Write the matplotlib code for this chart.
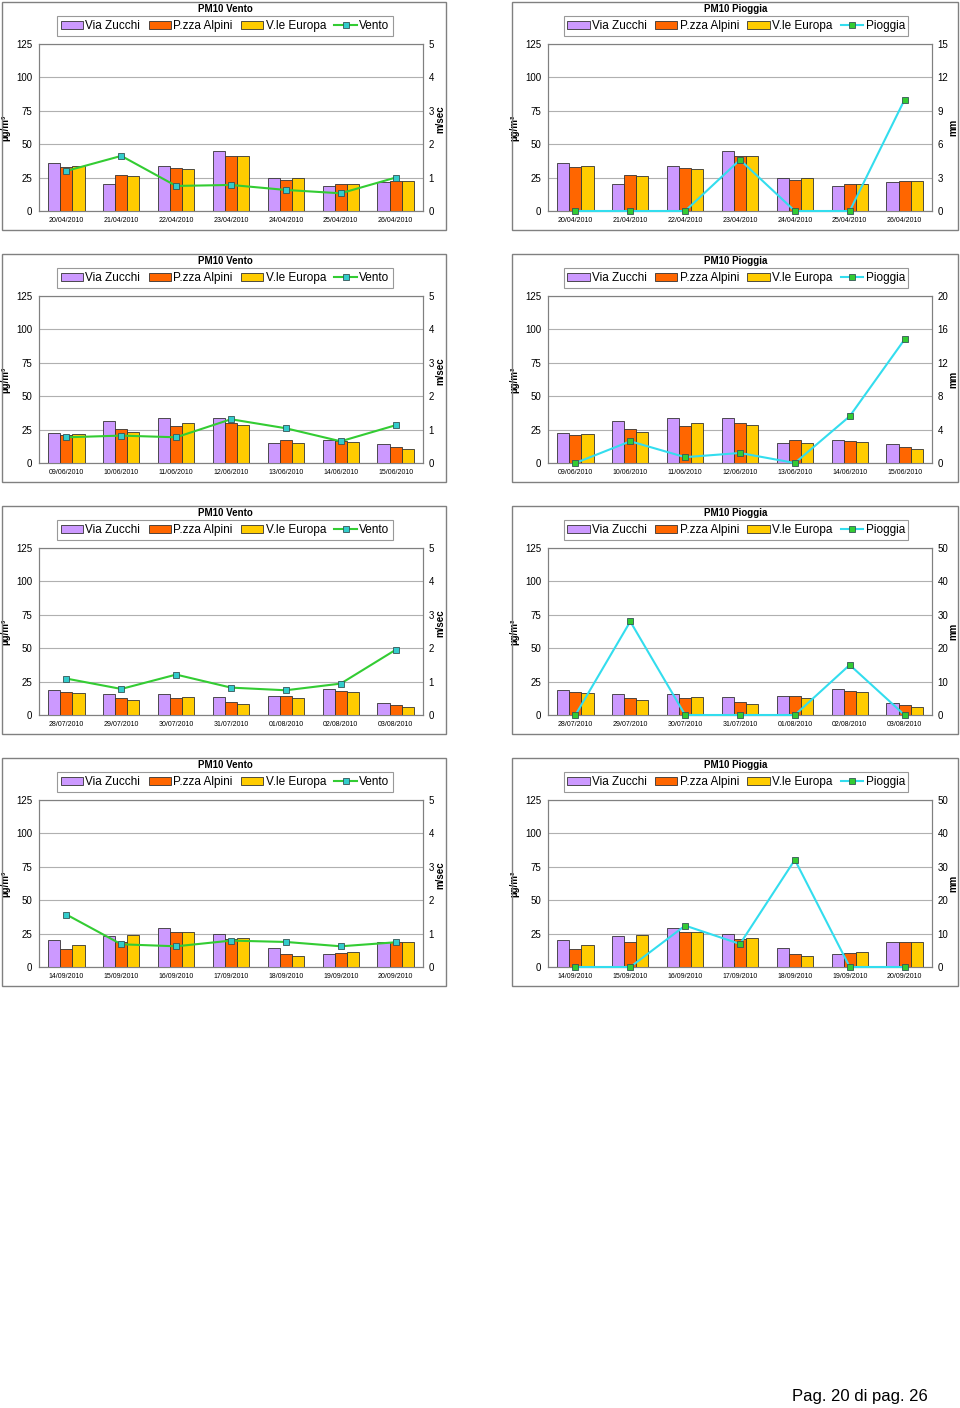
import numpy as np
import matplotlib.pyplot as plt
from matplotlib.patches import Rectangle, Patch
from matplotlib.lines import Line2D

plt.rcParams['font.family'] = ['Liberation Sans', 'DejaVu Sans']

# --- data -----------------------------------------------------------------
series = ['Via Zucchi', 'P.zza Alpini', 'V.le Europa']
colors = ['#CC99FF', '#FF6600', '#FFCC00']

dates_apr = ['20/04/2010', '21/04/2010', '22/04/2010', '23/04/2010', '24/04/2010', '25/04/2010', '26/04/2010']
zucchi_apr = [36, 20.5, 34, 45, 25, 19, 22]
alpini_apr = [33, 27, 32, 41, 23, 20.5, 22.5]
europa_apr = [34, 26, 31.5, 41, 24.5, 20.5, 22.5]
vento_apr = [1.2, 1.65, 0.75, 0.78, 0.63, 0.53, 1.0]
pioggia_apr = [0, 0, 0, 4.6, 0, 0, 10.0]

dates_jun = ['09/06/2010', '10/06/2010', '11/06/2010', '12/06/2010', '13/06/2010', '14/06/2010', '15/06/2010']
zucchi_jun = [22.5, 31.5, 33.5, 33.5, 15, 17.5, 14.5]
alpini_jun = [21, 25.5, 28, 30, 17, 16.5, 12]
europa_jun = [21.5, 23, 30, 28.5, 15, 16, 10.5]
vento_jun = [0.77, 0.82, 0.77, 1.31, 1.04, 0.65, 1.13]
pioggia_jun = [0, 2.6, 0.7, 1.2, 0, 5.6, 14.8]

dates_jul = ['28/07/2010', '29/07/2010', '30/07/2010', '31/07/2010', '01/08/2010', '02/08/2010', '03/08/2010']
zucchi_jul = [18.5, 16, 15.5, 13.5, 14, 19.5, 9]
alpini_jul = [17, 13, 13, 10, 14.5, 18, 7.5]
europa_jul = [16.5, 11.5, 13.5, 8.5, 12.5, 17.5, 6]
vento_jul = [1.09, 0.78, 1.21, 0.82, 0.74, 0.94, 1.95]
pioggia_jul = [0, 28, 0, 0, 0, 15, 0]

dates_sep = ['14/09/2010', '15/09/2010', '16/09/2010', '17/09/2010', '18/09/2010', '19/09/2010', '20/09/2010']
zucchi_sep = [20.5, 23.5, 29.5, 25, 14.5, 10, 19]
alpini_sep = [13.5, 19, 26, 21, 10, 10.5, 18.5]
europa_sep = [16.5, 24, 26, 22, 8, 11.5, 18.5]
vento_sep = [1.57, 0.68, 0.62, 0.79, 0.75, 0.62, 0.74]
pioggia_sep = [0, 0, 12.4, 6.9, 32.1, 0, 0]

rows = [
    (dates_apr, [zucchi_apr, alpini_apr, europa_apr], vento_apr, pioggia_apr, 15),
    (dates_jun, [zucchi_jun, alpini_jun, europa_jun], vento_jun, pioggia_jun, 20),
    (dates_jul, [zucchi_jul, alpini_jul, europa_jul], vento_jul, pioggia_jul, 50),
    (dates_sep, [zucchi_sep, alpini_sep, europa_sep], vento_sep, pioggia_sep, 50),
]

W, H = 960, 1408
fig = plt.figure(figsize=(W / 100, H / 100), dpi=100)


def fx(px):
    return px / W


def fy(py):
    return 1 - py / H


def panel(box_x0, box_x1, plot_x0, plot_x1, top, dates, pm, sec, sec_max, kind):
    # outer frame of the chart
    fig.add_artist(Rectangle((fx(box_x0), fy(top + 228)), fx(box_x1 - box_x0), 228 / H,
                             transform=fig.transFigure, fill=False, edgecolor='#808080', lw=1))
    pw = plot_x1 - plot_x0
    ax = fig.add_axes([fx(plot_x0), fy(top + 209), fx(pw), 167 / H])
    x = np.arange(len(dates))
    w = 0.22
    for i, vals in enumerate(pm):
        ax.bar(x + (i - 1) * w, vals, width=w, color=colors[i], edgecolor='#333333', lw=0.6, zorder=3)
    ax.set_xlim(-0.5, len(dates) - 0.5)
    ax.set_ylim(0, 125)
    ax.set_yticks([0, 25, 50, 75, 100, 125])
    ax.yaxis.grid(True, color='#B0B0B0', lw=0.8, zorder=0)
    ax.set_xticks(x)
    ax.set_xticklabels(dates, fontsize=5)
    ax.tick_params(axis='y', labelsize=7, length=0, pad=5)
    ax.tick_params(axis='x', length=0, pad=4)
    for s in ax.spines.values():
        s.set_color('#808080')
    ax.set_ylabel('µg/m³', fontsize=7, fontweight='bold')
    ax.yaxis.set_label_coords(-29 / pw, 0.5)

    ax2 = ax.twinx()
    if kind == 'Vento':
        lc, mc = '#33CC33', '#33CCCC'
        ax2.set_ylim(0, 5)
        ax2.set_yticks(np.arange(0, 6))
        ax2.set_ylabel('m/sec', fontsize=7, fontweight='bold')
        ax2.yaxis.set_label_coords(1 + 12 / pw, 0.55)
    else:
        lc, mc = '#33DDEE', '#33CC33'
        ax2.set_ylim(0, sec_max)
        ax2.set_yticks(np.linspace(0, sec_max, 6))
        ax2.set_yticklabels([str(int(v)) for v in np.linspace(0, sec_max, 6)])
        ax2.set_ylabel('mm', fontsize=7, fontweight='bold')
        ax2.yaxis.set_label_coords(1 + 16 / pw, 0.5)
    ax2.plot(x, sec, color=lc, lw=1.5, marker='s', markersize=4.5, clip_on=False,
             markerfacecolor=mc, markeredgecolor='#335555', markeredgewidth=0.6, zorder=5)
    ax2.tick_params(axis='y', labelsize=7, length=0, pad=4)
    for s in ax2.spines.values():
        s.set_color('#808080')

    cx = (box_x0 + box_x1) / 2 + 1
    fig.text(fx(cx), fy(top + 7), 'PM10 ' + kind, fontsize=7, fontweight='bold', ha='center', va='center')
    handles = [Patch(facecolor=colors[i], edgecolor='#333333', lw=0.6) for i in range(3)]
    handles.append(Line2D([0], [0], color=lc, lw=1.5, marker='s', markersize=4.5,
                          markerfacecolor=mc, markeredgecolor='#335555', markeredgewidth=0.6))
    leg = fig.legend(handles, series + [kind], loc='center', ncol=4,
                     bbox_to_anchor=(fx(cx), fy(top + 24)), fontsize=8.5, frameon=True,
                     fancybox=False, edgecolor='#808080', handlelength=1.9, handleheight=0.7,
                     handletextpad=0.2, columnspacing=0.7, borderpad=0.3, borderaxespad=0)
    leg.get_frame().set_linewidth(0.8)


tops = [2, 254, 506, 758]
for r, (dates, pm, vento, pioggia, pmax) in enumerate(rows):
    panel(2, 446, 39, 423, tops[r], dates, pm, vento, 5, 'Vento')
    panel(512, 958, 548, 932, tops[r], dates, pm, pioggia, pmax, 'Pioggia')

fig.text(fx(928), fy(1396), 'Pag. 20 di pag. 26', fontsize=12, ha='right', va='center')

plt.savefig('out.png', dpi=100)
